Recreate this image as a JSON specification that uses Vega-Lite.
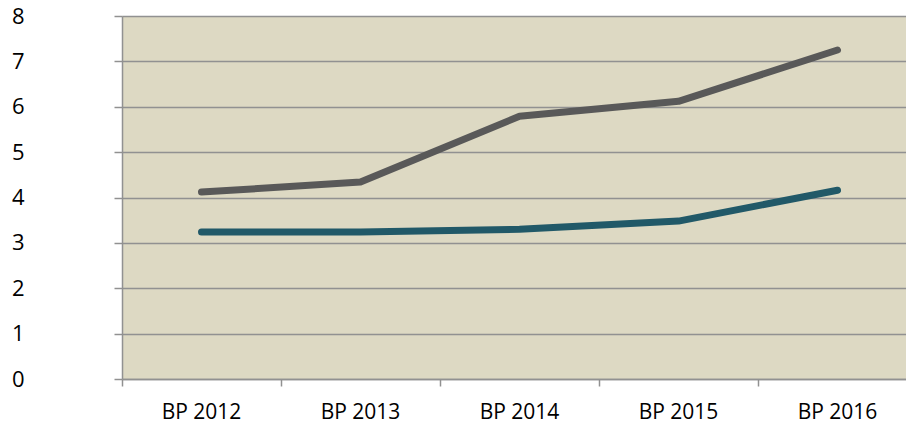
{
  "$schema": "https://vega.github.io/schema/vega-lite/v6.json",
  "autosize": "none",
  "padding": {"left": 122, "top": 16, "right": 0, "bottom": 49},
  "width": 795,
  "height": 363,
  "background": "white",
  "config": {
    "view": {"stroke": null, "fill": "#DDD9C3"},
    "font": "Open Sans"
  },
  "data": {
    "values": [
      {"year": "BP 2012", "series": "A", "value": 4.12},
      {"year": "BP 2013", "series": "A", "value": 4.34},
      {"year": "BP 2014", "series": "A", "value": 5.79},
      {"year": "BP 2015", "series": "A", "value": 6.12},
      {"year": "BP 2016", "series": "A", "value": 7.25},
      {"year": "BP 2012", "series": "B", "value": 3.24},
      {"year": "BP 2013", "series": "B", "value": 3.24},
      {"year": "BP 2014", "series": "B", "value": 3.3},
      {"year": "BP 2015", "series": "B", "value": 3.48},
      {"year": "BP 2016", "series": "B", "value": 4.16}
    ]
  },
  "resolve": {"axis": {"x": "independent"}},
  "layer": [
    {
      "mark": {"type": "line", "strokeWidth": 7, "strokeCap": "round", "strokeJoin": "round"},
      "encoding": {
        "x": {
          "field": "year", "type": "nominal", "title": null,
          "scale": {"type": "band", "paddingInner": 0, "paddingOuter": 0},
          "axis": {
            "orient": "bottom", "labels": false, "ticks": true, "domain": true,
            "bandPosition": 0, "tickSize": 7, "tickColor": "#919191", "tickWidth": 1.5,
            "domainColor": "#919191", "domainWidth": 1.5, "grid": false
          }
        },
        "y": {
          "field": "value", "type": "quantitative", "title": null,
          "scale": {"domain": [0, 8], "nice": false, "zero": true},
          "axis": {
            "values": [0, 1, 2, 3, 4, 5, 6, 7, 8],
            "grid": true, "gridColor": "#919191", "gridWidth": 1.5,
            "domain": true, "domainColor": "#919191", "domainWidth": 1.5,
            "ticks": true, "tickSize": 8, "tickColor": "#919191", "tickWidth": 1.5,
            "labelFontSize": 22, "labelColor": "#000000", "labelPadding": 90,
            "labelFont": "Open Sans"
          }
        },
        "color": {
          "field": "series", "type": "nominal", "legend": null,
          "scale": {"domain": ["A", "B"], "range": ["#595959", "#215968"]}
        }
      }
    },
    {
      "mark": {"type": "point", "opacity": 0},
      "encoding": {
        "x": {
          "field": "year", "type": "nominal", "title": null,
          "axis": {
            "orient": "bottom", "labels": true, "ticks": false, "domain": false, "grid": false,
            "labelFontSize": 21, "labelColor": "#000000", "labelPadding": 22,
            "labelFont": "Open Sans", "labelAngle": 0
          }
        },
        "y": {"field": "value", "type": "quantitative"}
      }
    }
  ]
}
